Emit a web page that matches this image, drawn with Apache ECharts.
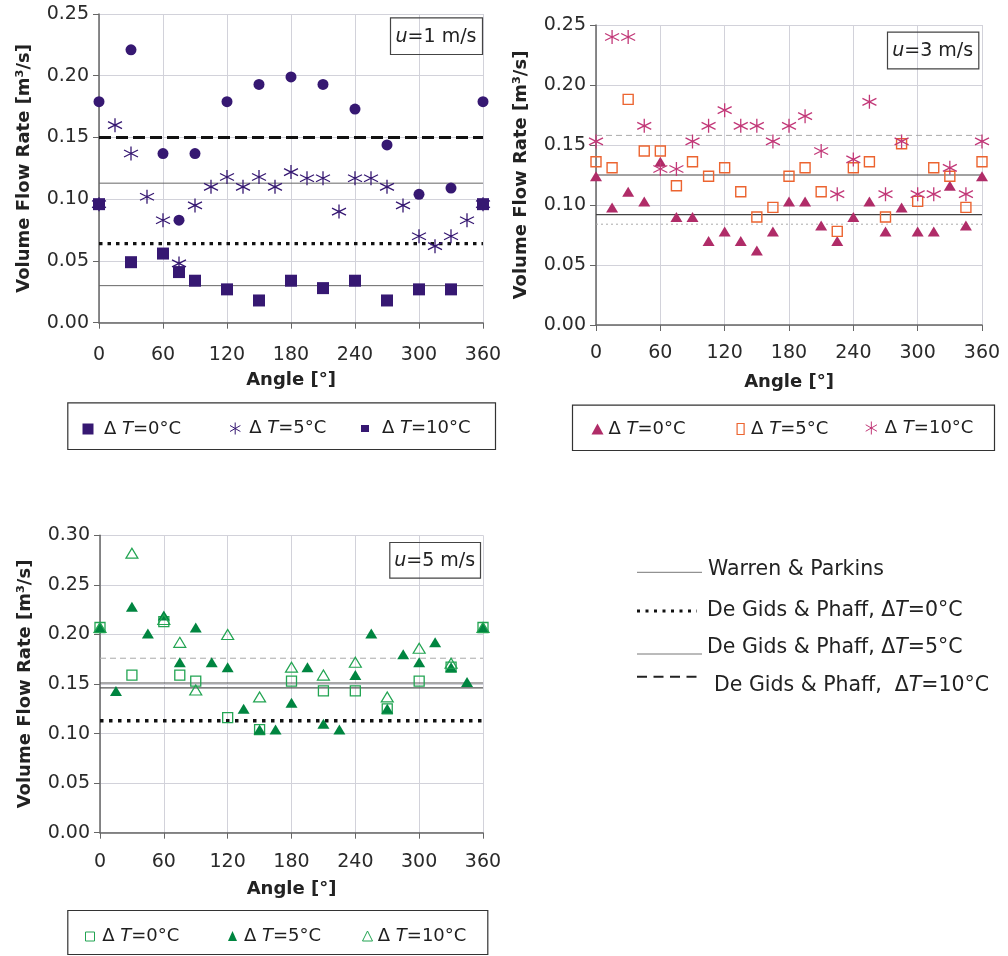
<!DOCTYPE html>
<html><head><meta charset="utf-8">
<script src="https://cdn.jsdelivr.net/npm/echarts@6/dist/echarts.min.js"></script>
<style>html,body{margin:0;padding:0;background:#fff}#c{width:1008px;height:956px}</style>
</head><body><div id="c"></div>
<script>
// ---------- DATA ----------
const xTicks = [0, 60, 120, 180, 240, 300, 360];
const anglesA = [0, 30, 60, 75, 90, 120, 150, 180, 210, 240, 270, 300, 330, 360];
const angles15 = [0, 15, 30, 45, 60, 75, 90, 105, 120, 135, 150, 165, 180, 195, 210, 225, 240, 255, 270, 285, 300, 315, 330, 345, 360];

// u = 1 m/s
const p1Dt0 = [0.096, 0.049, 0.056, 0.041, 0.034, 0.027, 0.018, 0.034, 0.028, 0.034, 0.018, 0.027, 0.027, 0.096];
const p1Dt5 = [0.096, 0.160, 0.137, 0.102, 0.083, 0.048, 0.095, 0.110, 0.118, 0.110, 0.118, 0.110, 0.122, 0.117, 0.117, 0.090, 0.117, 0.117, 0.110, 0.095, 0.070, 0.062, 0.070, 0.083, 0.096];
const p1Dt10 = [0.179, 0.221, 0.137, 0.083, 0.137, 0.179, 0.193, 0.199, 0.193, 0.173, 0.144, 0.104, 0.109, 0.179];

// u = 3 m/s
const p2Dt0 = [0.124, 0.098, 0.111, 0.103, 0.136, 0.090, 0.090, 0.070, 0.078, 0.070, 0.062, 0.078, 0.103, 0.103, 0.083, 0.070, 0.090, 0.103, 0.078, 0.098, 0.078, 0.078, 0.116, 0.083, 0.124];
const p2Dt5 = [0.136, 0.131, 0.188, 0.145, 0.145, 0.116, 0.136, 0.124, 0.131, 0.111, 0.090, 0.098, 0.124, 0.131, 0.111, 0.078, 0.131, 0.136, 0.090, 0.151, 0.103, 0.131, 0.124, 0.098, 0.136];
const p2Dt10 = [0.153, 0.240, 0.240, 0.166, 0.130, 0.130, 0.153, 0.166, 0.179, 0.166, 0.166, 0.153, 0.166, 0.174, 0.145, 0.109, 0.138, 0.186, 0.109, 0.153, 0.109, 0.109, 0.131, 0.109, 0.153];

// u = 5 m/s
const p3Dt0 = [0.207, 0.159, 0.213, 0.159, 0.153, 0.116, 0.104, 0.153, 0.143, 0.143, 0.125, 0.153, 0.167, 0.207];
const p3Dt5 = [0.207, 0.143, 0.228, 0.201, 0.219, 0.172, 0.207, 0.172, 0.167, 0.125, 0.104, 0.104, 0.131, 0.167, 0.110, 0.104, 0.159, 0.201, 0.125, 0.180, 0.172, 0.192, 0.167, 0.152, 0.207];
const p3Dt10 = [0.207, 0.282, 0.215, 0.192, 0.144, 0.200, 0.137, 0.167, 0.159, 0.172, 0.137, 0.186, 0.171, 0.207];

// reference lines per panel (u = 1, 3, 5 m/s)
const warrenParkins = [0.030, 0.092, 0.151];
const deGids0 = [0.064, 0.084, 0.113];
const deGids5 = [0.113, 0.125, 0.146];
const deGids10 = [0.150, 0.158, 0.176];

const yMax = [0.25, 0.25, 0.30];
const panelLabels = ['1', '3', '5'];
const dtLabels = ['0°C', '5°C', '10°C'];
const lineLegendLabels = ['Warren & Parkins', 'De Gids & Phaff, ', 'De Gids & Phaff, ', 'De Gids & Phaff,  '];

// ---------- STYLE ----------
const FONT = 'DejaVu Sans';
const AST = 'path://M5,0L5,10M0.67,2.5L9.33,7.5M0.67,7.5L9.33,2.5';
const PURP = '#361872', MAG = '#b02c68', ORA = '#ec6430', PINK = '#c23878', DGR = '#008540', LGR = '#22a452';
const TR = 'rgba(0,0,0,0)';

const grids = [
  {left: 99, top: 14, width: 384, height: 308.7},
  {left: 596, top: 25, width: 386, height: 300},
  {left: 100, top: 535.3, width: 383, height: 297.4}
];
const xLabelMargin = [23, 18.5, 20];
const xNameGap = [49, 48, 48];

const xAxes = grids.map((g, i) => ({
  gridIndex: i, type: 'value', min: xTicks[0], max: xTicks[xTicks.length - 1], interval: xTicks[1] - xTicks[0],
  axisLine: {show: true, onZero: false, lineStyle: {color: '#666', width: 1.5}},
  axisTick: {show: true, length: 6, lineStyle: {color: '#666'}},
  axisLabel: {margin: xLabelMargin[i], fontFamily: FONT, fontSize: 19, color: '#2a2a2a', hideOverlap: false, showMinLabel: true, showMaxLabel: true},
  splitLine: {show: true, lineStyle: {color: '#d2d2da', width: 1}},
  name: 'Angle [°]', nameLocation: 'middle', nameGap: xNameGap[i],
  nameTextStyle: {fontFamily: FONT, fontSize: 18, fontWeight: 'bold', color: '#222'}
}));
const yAxes = grids.map((g, i) => ({
  gridIndex: i, type: 'value', min: 0, max: yMax[i], interval: 0.05,
  axisLine: {show: true, onZero: false, lineStyle: {color: '#666', width: 1.5}},
  axisTick: {show: true, length: 6, lineStyle: {color: '#666'}},
  axisLabel: {margin: 10, fontFamily: FONT, fontSize: 19, color: '#2a2a2a', formatter: v => v.toFixed(2), hideOverlap: false, showMinLabel: true, showMaxLabel: true},
  splitLine: {show: true, lineStyle: {color: '#d2d2da', width: 1}},
  name: 'Volume Flow Rate [m³/s]', nameLocation: 'middle', nameGap: 66,
  nameTextStyle: {fontFamily: FONT, fontSize: 18, fontWeight: 'bold', color: '#222'}
}));

function pts(xs, ys) { return xs.map((x, k) => [x, ys[k]]); }
function scat(name, p, xs, ys, symbol, size, itemStyle) {
  return {name, type: 'scatter', xAxisIndex: p, yAxisIndex: p, data: pts(xs, ys), symbol, symbolSize: size,
    itemStyle: Object.assign({opacity: 1}, itemStyle), z: 3, silent: true, emphasis: {disabled: true}};
}
function hline(name, p, v, lineStyle) {
  return {name, type: 'line', xAxisIndex: p, yAxisIndex: p, data: [[xTicks[0], v], [xTicks[xTicks.length - 1], v]],
    showSymbol: false, symbol: 'none', lineStyle, z: 2, silent: true, emphasis: {disabled: true}};
}

// line style of reference lines per panel
const lsWP = [{color: '#666', width: 1}, {color: '#444', width: 1.2}, {color: '#555', width: 1.2}];
const ls0 = [{color: '#111', width: 3.2, type: [3.5, 5]}, {color: '#aaa', width: 1, type: [2, 3]}, {color: '#111', width: 3.5, type: [3.5, 5.5]}];
const ls5 = [{color: '#666', width: 1}, {color: '#444', width: 1.2}, {color: '#555', width: 1.2}];
const ls10 = [{color: '#111', width: 3.2, type: [12, 5]}, {color: '#aaa', width: 1, type: [6, 4]}, {color: '#aaa', width: 1, type: [6, 4]}];

const series = [];
for (let p = 0; p < 3; p++) {
  series.push(hline('wp' + p, p, warrenParkins[p], lsWP[p]));
  series.push(hline('dg0' + p, p, deGids0[p], ls0[p]));
  series.push(hline('dg5' + p, p, deGids5[p], ls5[p]));
  series.push(hline('dg10' + p, p, deGids10[p], ls10[p]));
}
series.push(scat('p1a', 0, anglesA, p1Dt0, 'rect', 12, {color: PURP}));
series.push(scat('p1b', 0, angles15, p1Dt5, AST, 14, {color: TR, borderColor: PURP, borderWidth: 1.3}));
series.push(scat('p1c', 0, anglesA, p1Dt10, 'circle', 11, {color: PURP}));
series.push(scat('p2a', 1, angles15, p2Dt0, 'triangle', [12, 10], {color: MAG}));
series.push(scat('p2b', 1, angles15, p2Dt5, 'rect', 10, {color: TR, borderColor: ORA, borderWidth: 1.4}));
series.push(scat('p2c', 1, angles15, p2Dt10, AST, 14, {color: TR, borderColor: PINK, borderWidth: 1.3}));
series.push(scat('p3a', 2, anglesA, p3Dt0, 'rect', 10, {color: TR, borderColor: LGR, borderWidth: 1.3}));
series.push(scat('p3b', 2, angles15, p3Dt5, 'triangle', [12, 10], {color: DGR}));
series.push(scat('p3c', 2, anglesA, p3Dt10, 'triangle', [12, 10], {color: TR, borderColor: LGR, borderWidth: 1.2}));

// legend items: name, label index, marker centre x, centre y, icon w, h, text pad, icon, icon style
const legendSpec = [
  ['p1a', 0, 88, 425.5, 11, 11, 5.5, 'rect', {color: PURP, opacity: 1}],
  ['p1b', 1, 235.5, 425.5, 12, 12, 3, AST, {color: TR, borderColor: PURP, borderWidth: 1}],
  ['p1c', 2, 365, 423, 8, 7, 8, 'rect', {color: PURP, opacity: 1}],
  ['p2a', 0, 597.5, 425.5, 12, 11, 0, 'triangle', {color: MAG, opacity: 1}],
  ['p2b', 1, 740, 425.5, 7, 11, 2, 'path://M0,0L7,0L7,11L0,11Z', {color: TR, borderColor: ORA, borderWidth: 1.2}],
  ['p2c', 2, 871.7, 425.5, 13, 13, 2, AST, {color: TR, borderColor: PINK, borderWidth: 1}],
  ['p3a', 0, 89.5, 932, 9, 9, 2.7, 'rect', {color: TR, borderColor: LGR, borderWidth: 1}],
  ['p3b', 1, 232.5, 932, 9, 10, 2, 'triangle', {color: DGR, opacity: 1}],
  ['p3c', 2, 367, 932, 10, 10, 0.3, 'triangle', {color: TR, borderColor: LGR, borderWidth: 1}]
];
const legends = legendSpec.map(s => ({
  show: true, data: [{name: s[0], icon: s[7], itemStyle: s[8]}],
  left: s[2] - s[4] / 2, top: s[3] - s[5] / 2, itemWidth: s[4], itemHeight: s[5], padding: 0,
  selectedMode: false, orient: 'horizontal',
  formatter: () => '{f|Δ }{i|T}{a|=' + dtLabels[s[1]] + '}',
  textStyle: {fontFamily: FONT, fontSize: 18, color: '#1e1e1e',
    rich: {
      f: {fontFamily: FONT, fontSize: 18, color: '#1e1e1e', padding: [0, 0, 0, s[6]]},
      i: {fontFamily: FONT, fontSize: 18, color: '#1e1e1e', fontStyle: 'italic'},
      a: {fontFamily: FONT, fontSize: 18, color: '#1e1e1e'}
    }}
}));

// ---------- GRAPHIC (frames, boxes, line legend) ----------
const richU = {
  i: {fontFamily: FONT, fontSize: 19, fontStyle: 'italic', fill: '#222'},
  n: {fontFamily: FONT, fontSize: 19, fill: '#222'}
};
const uBoxes = [[390, 17.3, 92, 36.7], [887, 31.7, 91.3, 36.6], [389.3, 542, 90.7, 35.7]];
const graphic = [];
uBoxes.forEach((b, i) => {
  graphic.push({type: 'rect', silent: true, shape: {x: b[0] + 0.5, y: b[1] + 0.5, width: b[2], height: b[3]},
    style: {fill: 'none', stroke: '#444', lineWidth: 1.2}, z: 10});
  graphic.push({type: 'text', silent: true, x: b[0] + b[2] / 2, y: b[1] + b[3] / 2 + 1, z: 10,
    style: {text: '{i|u}{n|=' + panelLabels[i] + ' m/s}', rich: richU, align: 'center', verticalAlign: 'middle', fontFamily: FONT, fontSize: 19}});
});
const legBoxes = [[67.3, 402.3, 427.7, 46.7], [572, 404.7, 422, 45.3], [67.3, 910, 420, 44]];
legBoxes.forEach(b => graphic.push({type: 'rect', silent: true, shape: {x: b[0] + 0.5, y: b[1] + 0.5, width: b[2], height: b[3]},
  style: {fill: 'none', stroke: '#333', lineWidth: 1.2}}));

const richL = {
  n: {fontFamily: FONT, fontSize: 20.5, fill: '#222'},
  i: {fontFamily: FONT, fontSize: 20.5, fontStyle: 'italic', fill: '#222'}
};
const lineRows = [
  {ly: 572.3, x2: 702, st: {stroke: '#777', lineWidth: 1}, tx: 708, ty: 569.5, txt: '{n|' + lineLegendLabels[0] + '}'},
  {ly: 611, x2: 697, st: {stroke: '#111', lineWidth: 3, lineDash: [3, 5.5]}, tx: 707, ty: 610.5, txt: '{n|' + lineLegendLabels[1] + 'Δ}{i|T}{n|=0°C}'},
  {ly: 654, x2: 702, st: {stroke: '#777', lineWidth: 1}, tx: 707, ty: 648, txt: '{n|' + lineLegendLabels[2] + 'Δ}{i|T}{n|=5°C}'},
  {ly: 676.7, x2: 702, st: {stroke: '#222', lineWidth: 2, lineDash: [10, 6.5]}, tx: 714, ty: 686, txt: '{n|' + lineLegendLabels[3] + 'Δ}{i|T}{n|=10°C}'}
];
lineRows.forEach(r => {
  graphic.push({type: 'line', silent: true, shape: {x1: 637, y1: r.ly, x2: r.x2, y2: r.ly}, style: r.st});
  graphic.push({type: 'text', silent: true, x: r.tx, y: r.ty,
    style: {text: r.txt, rich: richL, align: 'left', verticalAlign: 'middle', fontFamily: FONT, fontSize: 20.5}});
});

const chart = echarts.init(document.getElementById('c'), null, {renderer: 'canvas'});
chart.setOption({
  animation: false,
  backgroundColor: '#fff',
  grid: grids,
  xAxis: xAxes,
  yAxis: yAxes,
  legend: legends,
  tooltip: {show: false},
  series,
  graphic
});
</script></body></html>
